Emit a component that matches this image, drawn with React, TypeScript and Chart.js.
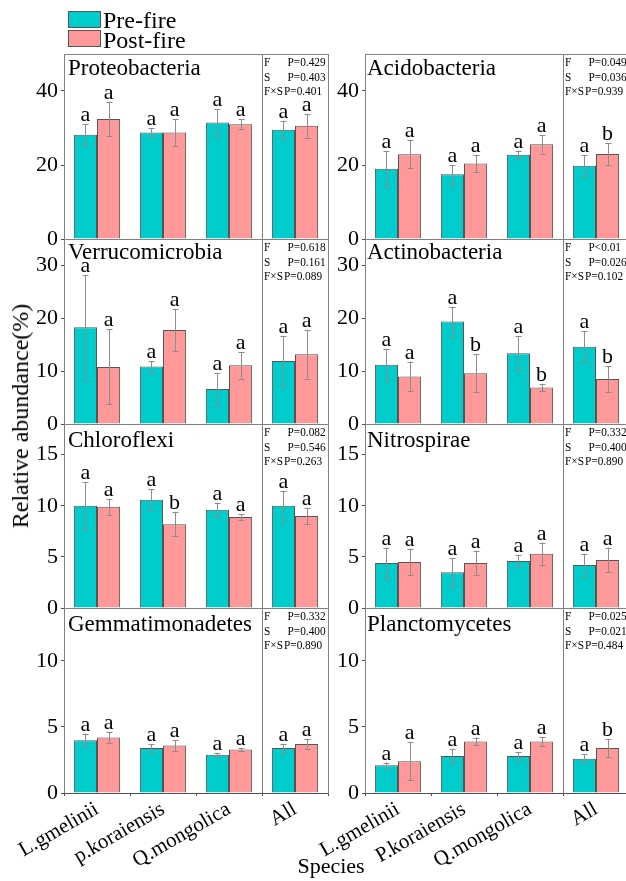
import React, { useEffect, useRef } from 'react';
import { Chart, registerables } from 'chart.js';

Chart.register(...registerables);

const SERIF = '"Liberation Serif", "Times New Roman", serif';
const PRE_COLOR = '#00CCCC';
const POST_COLOR = '#FF9999';
const BAR_EDGE = '#555555';
const FRAME = '#808080';
const ERR_COLOR = '#8c8c8c';

// Category labels
const speciesLeft = ['L.gmelinii', 'p.koraiensis', 'Q.mongolica', 'All'];
const speciesRight = ['L.gmelinii', 'P.koraiensis', 'Q.mongolica', 'All'];
const statLabels = ['F', 'S', 'F×S'];

// Proteobacteria
const proteoPre = [28.2, 28.8, 31.5, 29.5];
const proteoPreErr = [2.8, 1.1, 3.6, 2.5];
const proteoPost = [32.4, 28.8, 31.0, 30.6];
const proteoPostErr = [4.5, 3.6, 1.4, 3.2];
const proteoPreLetters = ['a', 'a', 'a', 'a'];
const proteoPostLetters = ['a', 'a', 'a', 'a'];
const proteoStats = ['P=0.429', 'P=0.403', 'P=0.401'];

// Acidobacteria
const acidoPre = [19.0, 17.5, 22.8, 19.8];
const acidoPreErr = [4.8, 2.5, 1.1, 2.8];
const acidoPost = [22.9, 20.4, 25.6, 23.0];
const acidoPostErr = [3.8, 2.2, 2.5, 2.9];
const acidoPreLetters = ['a', 'a', 'a', 'a'];
const acidoPostLetters = ['a', 'a', 'a', 'b'];
const acidoStats = ['P=0.049', 'P=0.036', 'P=0.939'];

// Verrucomicrobia
const verruPre = [18.3, 10.9, 6.6, 11.9];
const verruPreErr = [9.9, 1.0, 3.1, 4.7];
const verruPost = [10.8, 17.8, 11.1, 13.2];
const verruPostErr = [7.1, 4.0, 2.5, 4.6];
const verruPreLetters = ['a', 'a', 'a', 'a'];
const verruPostLetters = ['a', 'a', 'a', 'a'];
const verruStats = ['P=0.618', 'P=0.161', 'P=0.089'];

// Actinobacteria
const actinoPre = [11.2, 19.4, 13.4, 14.6];
const actinoPreErr = [3.0, 2.7, 3.2, 3.0];
const actinoPost = [9.0, 9.6, 6.9, 8.5];
const actinoPostErr = [2.8, 3.6, 0.7, 2.4];
const actinoPreLetters = ['a', 'a', 'a', 'a'];
const actinoPostLetters = ['a', 'b', 'b', 'b'];
const actinoStats = ['P<0.01', 'P=0.026', 'P=0.102'];

// Chloroflexi
const chloroPre = [10.0, 10.6, 9.6, 10.0];
const chloroPreErr = [2.3, 1.0, 0.7, 1.4];
const chloroPost = [9.9, 8.2, 8.9, 9.0];
const chloroPostErr = [0.8, 1.2, 0.3, 0.8];
const chloroPreLetters = ['a', 'a', 'a', 'a'];
const chloroPostLetters = ['a', 'b', 'a', 'a'];
const chloroStats = ['P=0.082', 'P=0.546', 'P=0.263'];

// Nitrospirae
const nitroPre = [4.4, 3.5, 4.6, 4.2];
const nitroPreErr = [1.5, 1.4, 0.6, 1.1];
const nitroPost = [4.5, 4.4, 5.3, 4.7];
const nitroPostErr = [1.3, 1.2, 1.1, 1.2];
const nitroPreLetters = ['a', 'a', 'a', 'a'];
const nitroPostLetters = ['a', 'a', 'a', 'a'];
const nitroStats = ['P=0.332', 'P=0.400', 'P=0.890'];

// Gemmatimonadetes
const gemmaPre = [4.0, 3.4, 2.9, 3.4];
const gemmaPreErr = [0.5, 0.3, 0.15, 0.3];
const gemmaPost = [4.2, 3.6, 3.3, 3.7];
const gemmaPostErr = [0.4, 0.4, 0.1, 0.35];
const gemmaPreLetters = ['a', 'a', 'a', 'a'];
const gemmaPostLetters = ['a', 'a', 'a', 'a'];
const gemmaStats = ['P=0.332', 'P=0.400', 'P=0.890'];

// Planctomycetes
const planctoPre = [2.1, 2.8, 2.8, 2.6];
const planctoPreErr = [0.2, 0.55, 0.3, 0.35];
const planctoPost = [2.4, 3.9, 3.9, 3.4];
const planctoPostErr = [1.45, 0.3, 0.35, 0.7];
const planctoPreLetters = ['a', 'a', 'a', 'a'];
const planctoPostLetters = ['a', 'a', 'a', 'b'];
const planctoStats = ['P=0.025', 'P=0.021', 'P=0.484'];

// Panel grid geometry (page pixels)
const ROW_TOPS = [54, 239, 424, 608];
const ROW_HEIGHTS = [185, 185, 184, 185];
const COL_PLOT_LEFT = [64, 365];
const PLOT_W = 264;
const Y_AXIS_W = 64;
const PAD = 12;
const X_AXIS_H = 88;
const TITLE_DY = [21, 20, 22.5, 22.5];
const TITLE_DX = [4, 2];

type PanelCfg = {
  title: string;
  row: number;
  col: number;
  labels: string[];
  pre: number[];
  preErr: number[];
  post: number[];
  postErr: number[];
  preLetters: string[];
  postLetters: string[];
  stats: string[];
  yMax: number;
  yStep: number;
};

const panels: PanelCfg[] = [
  { title: 'Proteobacteria', row: 0, col: 0, labels: speciesLeft, pre: proteoPre, preErr: proteoPreErr, post: proteoPost, postErr: proteoPostErr, preLetters: proteoPreLetters, postLetters: proteoPostLetters, stats: proteoStats, yMax: 50, yStep: 20 },
  { title: 'Acidobacteria', row: 0, col: 1, labels: speciesRight, pre: acidoPre, preErr: acidoPreErr, post: acidoPost, postErr: acidoPostErr, preLetters: acidoPreLetters, postLetters: acidoPostLetters, stats: acidoStats, yMax: 50, yStep: 20 },
  { title: 'Verrucomicrobia', row: 1, col: 0, labels: speciesLeft, pre: verruPre, preErr: verruPreErr, post: verruPost, postErr: verruPostErr, preLetters: verruPreLetters, postLetters: verruPostLetters, stats: verruStats, yMax: 35, yStep: 10 },
  { title: 'Actinobacteria', row: 1, col: 1, labels: speciesRight, pre: actinoPre, preErr: actinoPreErr, post: actinoPost, postErr: actinoPostErr, preLetters: actinoPreLetters, postLetters: actinoPostLetters, stats: actinoStats, yMax: 35, yStep: 10 },
  { title: 'Chloroflexi', row: 2, col: 0, labels: speciesLeft, pre: chloroPre, preErr: chloroPreErr, post: chloroPost, postErr: chloroPostErr, preLetters: chloroPreLetters, postLetters: chloroPostLetters, stats: chloroStats, yMax: 18, yStep: 5 },
  { title: 'Nitrospirae', row: 2, col: 1, labels: speciesRight, pre: nitroPre, preErr: nitroPreErr, post: nitroPost, postErr: nitroPostErr, preLetters: nitroPreLetters, postLetters: nitroPostLetters, stats: nitroStats, yMax: 18, yStep: 5 },
  { title: 'Gemmatimonadetes', row: 3, col: 0, labels: speciesLeft, pre: gemmaPre, preErr: gemmaPreErr, post: gemmaPost, postErr: gemmaPostErr, preLetters: gemmaPreLetters, postLetters: gemmaPostLetters, stats: gemmaStats, yMax: 14, yStep: 5 },
  { title: 'Planctomycetes', row: 3, col: 1, labels: speciesRight, pre: planctoPre, preErr: planctoPreErr, post: planctoPost, postErr: planctoPostErr, preLetters: planctoPreLetters, postLetters: planctoPostLetters, stats: planctoStats, yMax: 14, yStep: 5 },
];

function makeDecor(cfg: PanelCfg) {
  return {
    id: 'panelDecor',
    afterDatasetsDraw(chart: any) {
      const ctx: CanvasRenderingContext2D = chart.ctx;
      const { left, right, top, bottom } = chart.chartArea;
      const xs = chart.scales.x;
      const ys = chart.scales.y;
      const values = [cfg.pre, cfg.post];
      const errs = [cfg.preErr, cfg.postErr];
      const letters = [cfg.preLetters, cfg.postLetters];

      ctx.save();
      // error bars with caps
      for (let d = 0; d < 2; d++) {
        const meta = chart.getDatasetMeta(d);
        meta.data.forEach((bar: any, i: number) => {
          const v = values[d][i];
          const e = errs[d][i];
          const yTop = ys.getPixelForValue(v + e);
          const yBot = ys.getPixelForValue(Math.max(v - e, 0));
          const x = Math.round(bar.x) + 0.5;
          ctx.strokeStyle = ERR_COLOR;
          ctx.lineWidth = 1;
          ctx.beginPath();
          ctx.moveTo(x, yTop);
          ctx.lineTo(x, yBot);
          ctx.moveTo(x - 3, Math.round(yTop) + 0.5);
          ctx.lineTo(x + 3, Math.round(yTop) + 0.5);
          ctx.moveTo(x - 3, Math.round(yBot) + 0.5);
          ctx.lineTo(x + 3, Math.round(yBot) + 0.5);
          ctx.stroke();

          // significance letter above the error bar
          ctx.fillStyle = '#000';
          ctx.font = `22px ${SERIF}`;
          ctx.textAlign = 'center';
          ctx.textBaseline = 'alphabetic';
          ctx.fillText(letters[d][i], bar.x, yTop - 3);
        });
      }

      // divider between species groups and the pooled group
      const divX = Math.round((xs.getPixelForValue(2) + xs.getPixelForValue(3)) / 2) + 0.5;
      ctx.strokeStyle = FRAME;
      ctx.lineWidth = 1;
      ctx.beginPath();
      ctx.moveTo(divX, top);
      ctx.lineTo(divX, bottom);
      ctx.stroke();

      // frame
      ctx.strokeRect(Math.round(left) + 0.5, Math.round(top) + 0.5, Math.round(right - left), Math.round(bottom - top));
      ctx.strokeStyle = '#505050';
      ctx.beginPath();
      ctx.moveTo(left, Math.round(bottom) + 0.5);
      ctx.lineTo(right, Math.round(bottom) + 0.5);
      ctx.stroke();

      // panel title
      ctx.fillStyle = '#000';
      ctx.font = `23px ${SERIF}`;
      ctx.textAlign = 'left';
      ctx.textBaseline = 'alphabetic';
      ctx.fillText(cfg.title, left + TITLE_DX[cfg.col], top + TITLE_DY[cfg.row]);

      // two-way ANOVA results
      ctx.font = `13px ${SERIF}`;
      ctx.textBaseline = 'middle';
      const squeeze = 0.87;
      const lineY = [9, 24, 38];
      statLabels.forEach((lab, k) => {
        const y = top + lineY[k];
        ctx.save();
        ctx.translate(divX + 1.5, y);
        ctx.scale(squeeze, 1);
        ctx.fillText(lab, 0, 0);
        ctx.restore();
        const labW = ctx.measureText(lab).width * squeeze;
        const px = k < 2 ? divX + 25 : divX + 1.5 + labW + 1;
        ctx.save();
        ctx.translate(px, y);
        ctx.scale(squeeze, 1);
        ctx.fillText(cfg.stats[k], 0, 0);
        ctx.restore();
      });
      ctx.restore();
    },
  };
}

function Panel({ cfg }: { cfg: PanelCfg }) {
  const ref = useRef<HTMLCanvasElement | null>(null);
  const showX = cfg.row === 3;
  const plotH = ROW_HEIGHTS[cfg.row];
  const width = Y_AXIS_W + PLOT_W + 2;
  const height = PAD + plotH + (showX ? X_AXIS_H : PAD);

  useEffect(() => {
    if (!ref.current) return;
    const chart = new Chart(ref.current, {
      type: 'bar',
      data: {
        labels: cfg.labels,
        datasets: [
          { label: 'Pre-fire', data: cfg.pre, backgroundColor: PRE_COLOR, borderColor: BAR_EDGE, borderWidth: 1, categoryPercentage: 0.7, barPercentage: 1 },
          { label: 'Post-fire', data: cfg.post, backgroundColor: POST_COLOR, borderColor: BAR_EDGE, borderWidth: 1, categoryPercentage: 0.7, barPercentage: 1 },
        ],
      },
      options: {
        animation: false,
        responsive: false,
        devicePixelRatio: 1,
        events: [],
        layout: { padding: { top: PAD, bottom: showX ? 0 : PAD, left: 0, right: 2 } },
        plugins: { legend: { display: false }, tooltip: { enabled: false } },
        scales: {
          x: {
            display: showX,
            grid: { display: true, drawOnChartArea: false, drawTicks: true, tickLength: 3, color: '#505050' },
            border: { display: false },
            ticks: { minRotation: 30, maxRotation: 30, autoSkip: false, padding: 1, color: '#000', font: { family: SERIF, size: 21 } },
            afterFit: (s: any) => { s.height = showX ? X_AXIS_H : 0; s.paddingLeft = 0; s.paddingRight = 0; },
          },
          y: {
            min: 0,
            max: cfg.yMax,
            grid: { display: true, drawOnChartArea: false, drawTicks: true, tickLength: 3, color: '#505050' },
            border: { display: false },
            ticks: { stepSize: cfg.yStep, includeBounds: false, padding: 3, color: '#000', font: { family: SERIF, size: 22 } },
            afterFit: (s: any) => { s.width = Y_AXIS_W; s.paddingTop = 0; s.paddingBottom = 0; },
          },
        },
      } as any,
      plugins: [makeDecor(cfg)],
    });
    return () => chart.destroy();
  }, [cfg]);

  return (
    <canvas
      ref={ref}
      width={width}
      height={height}
      style={{
        position: 'absolute',
        left: COL_PLOT_LEFT[cfg.col] - Y_AXIS_W,
        top: ROW_TOPS[cfg.row] - PAD,
        width,
        height,
      }}
    />
  );
}

export default function App() {
  const legendText: React.CSSProperties = {
    position: 'absolute',
    left: 103,
    fontFamily: SERIF,
    fontSize: 24,
    lineHeight: '24px',
    whiteSpace: 'nowrap',
    color: '#000',
  };
  const swatch: React.CSSProperties = {
    position: 'absolute',
    left: 68,
    width: 31,
    height: 15,
    border: '1px solid #555',
  };
  return (
    <div
      style={{
        position: 'absolute',
        left: 0,
        top: 0,
        width: 626,
        height: 881,
        overflow: 'hidden',
        background: '#fff',
      }}
    >
      {panels.map((p) => (
        <Panel key={p.title} cfg={p} />
      ))}
      <div style={{ ...swatch, top: 11, background: PRE_COLOR }} />
      <div style={{ ...legendText, top: 8 }}>Pre-fire</div>
      <div style={{ ...swatch, top: 30, background: POST_COLOR }} />
      <div style={{ ...legendText, top: 27.5 }}>Post-fire</div>
      <div
        style={{
          position: 'absolute',
          left: 20,
          top: 416,
          transform: 'translate(-50%, -50%) rotate(-90deg)',
          fontFamily: SERIF,
          fontSize: 24,
          lineHeight: '24px',
          whiteSpace: 'nowrap',
          color: '#000',
        }}
      >
        Relative abundance(%)
      </div>
      <div
        style={{
          position: 'absolute',
          left: 331,
          top: 855,
          transform: 'translateX(-50%)',
          fontFamily: SERIF,
          fontSize: 22,
          lineHeight: '22px',
          whiteSpace: 'nowrap',
          color: '#000',
        }}
      >
        Species
      </div>
    </div>
  );
}
